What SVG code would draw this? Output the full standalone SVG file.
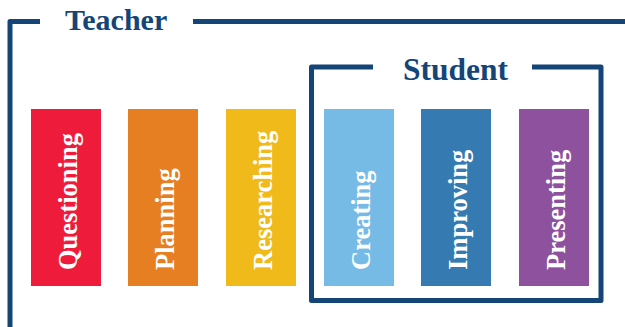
<svg xmlns="http://www.w3.org/2000/svg" width="625" height="327" viewBox="0 0 625 327">
<style>
.frame{fill:none;stroke:#154577;stroke-width:5;stroke-linejoin:round}
.title{font-family:"Liberation Serif","Times New Roman",serif;font-weight:bold;fill:#154577}
.lbl{font-family:"Liberation Serif","Times New Roman",serif;font-weight:bold;font-size:26.5px;fill:#ffffff}
</style>
<rect width="625" height="327" fill="#ffffff"/>
<g id="connectors">
<path class="frame" d="M10,327 V21.5 H40 M193,21.5 H625"/>
<path class="frame" d="M373,67 H311.5 V300.5 H601 V67 H532"/>
</g>
<g id="teacher"><text class="title" x="65" y="30" font-size="30">Teacher</text></g>
<g id="student"><text class="title" x="403" y="80" font-size="31.5">Student</text></g>
<g id="questioning"><rect x="31" y="109" width="70" height="177" fill="#EE1B3B"/><text class="lbl" transform="translate(77,270) rotate(-90)">Questioning</text></g>
<g id="planning"><rect x="128" y="109" width="70" height="177" fill="#E67E22"/><text class="lbl" transform="translate(174,270) rotate(-90)">Planning</text></g>
<g id="researching"><rect x="226" y="109" width="70" height="177" fill="#F0BA1A"/><text class="lbl" transform="translate(272,270) rotate(-90)">Researching</text></g>
<g id="creating"><rect x="324" y="109" width="70" height="177" fill="#76BAE6"/><text class="lbl" transform="translate(370,270) rotate(-90)">Creating</text></g>
<g id="improving"><rect x="421" y="109" width="70" height="177" fill="#357AB0"/><text class="lbl" transform="translate(467,270) rotate(-90)">Improving</text></g>
<g id="presenting"><rect x="519" y="109" width="70" height="177" fill="#8D519E"/><text class="lbl" transform="translate(565,270) rotate(-90)">Presenting</text></g>
</svg>
